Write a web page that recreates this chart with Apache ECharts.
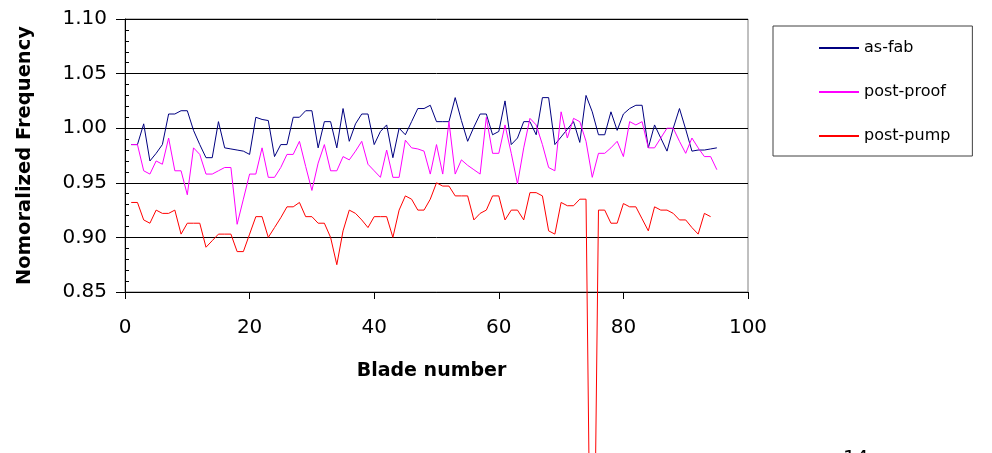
<!DOCTYPE html>
<html>
<head>
<meta charset="utf-8">
<script src="https://cdn.jsdelivr.net/npm/echarts@6/dist/echarts.min.js"></script>
<style>
  html, body { margin: 0; padding: 0; background: #fff; }
  #chart { width: 992px; height: 453px; }
</style>
</head>
<body>
<div id="chart"></div>
<script>
// normalized frequency per blade (blade number = position + 1)
const asFab = [
  0.985, 0.985, 1.004, 0.970, 0.977, 0.985, 1.013, 1.013, 1.016, 1.016,
  0.998, 0.985, 0.973, 0.973, 1.006, 0.982, 0.981, 0.980, 0.979, 0.976,
  1.010, 1.008, 1.007, 0.974, 0.985, 0.985, 1.010, 1.010, 1.016, 1.016,
  0.982, 1.006, 1.006, 0.982, 1.018, 0.988, 1.004, 1.013, 1.013, 0.985,
  0.997, 1.003, 0.973, 1.000, 0.994, 1.006, 1.018, 1.018, 1.021, 1.006,
  1.006, 1.006, 1.028, 1.007, 0.988, 1.001, 1.013, 1.013, 0.994, 0.997,
  1.025, 0.985, 0.991, 1.006, 1.006, 0.994, 1.028, 1.028, 0.985, 0.992,
  0.999, 1.006, 0.987, 1.030, 1.015, 0.994, 0.994, 1.015, 0.998, 1.013,
  1.018, 1.021, 1.021, 0.982, 1.003, 0.991, 0.979, 1.000, 1.018, 0.999,
  0.979, 0.980, 0.980, 0.981, 0.982
];
const postProof = [
  0.985, 0.985, 0.961, 0.958, 0.970, 0.967, 0.991, 0.961, 0.961, 0.939,
  0.982, 0.976, 0.958, 0.958, 0.961, 0.964, 0.964, 0.912, 0.935, 0.958,
  0.958, 0.982, 0.955, 0.955, 0.964, 0.976, 0.976, 0.988, 0.965, 0.943,
  0.968, 0.985, 0.961, 0.961, 0.974, 0.971, 0.979, 0.988, 0.967, 0.961,
  0.955, 0.980, 0.955, 0.955, 0.989, 0.982, 0.981, 0.979, 0.958, 0.985,
  0.958, 1.006, 0.958, 0.971, 0.966, 0.962, 0.958, 1.010, 0.977, 0.977,
  1.003, 0.977, 0.949, 0.982, 1.009, 1.003, 0.985, 0.964, 0.961, 1.015,
  0.991, 1.009, 1.006, 0.988, 0.955, 0.977, 0.977, 0.982, 0.988, 0.974,
  1.006, 1.003, 1.006, 0.982, 0.982, 0.991, 1.000, 1.000, 0.988, 0.977,
  0.991, 0.982, 0.974, 0.974, 0.962
];
const postPump = [
  0.932, 0.932, 0.916, 0.913, 0.925, 0.922, 0.922, 0.925, 0.903, 0.913,
  0.913, 0.913, 0.891, 0.897, 0.903, 0.903, 0.903, 0.887, 0.887, 0.903,
  0.919, 0.919, 0.900, 0.909, 0.918, 0.928, 0.928, 0.932, 0.919, 0.919,
  0.913, 0.913, 0.900, 0.875, 0.906, 0.925, 0.922, 0.916, 0.909, 0.919,
  0.919, 0.919, 0.900, 0.925, 0.938, 0.935, 0.925, 0.925, 0.935, 0.950,
  0.947, 0.947, 0.938, 0.938, 0.938, 0.916, 0.922, 0.925, 0.938, 0.938,
  0.916, 0.925, 0.925, 0.916, 0.941, 0.941, 0.938, 0.906, 0.903, 0.932,
  0.929, 0.929, 0.935, 0.935, 0.430, 0.925, 0.925, 0.913, 0.913, 0.931,
  0.928, 0.928, 0.917, 0.906, 0.928, 0.925, 0.925, 0.922, 0.916, 0.916,
  0.909, 0.903, 0.922, 0.919
];
const seriesNames = ["as-fab", "post-proof", "post-pump"];
const seriesColors = ["#000080", "#FF00FF", "#FF0000"];

const FONT = "DejaVu Sans";

function pairs(values) {
  return values.map((v, i) => [i + 1, v]);
}

const chart = echarts.init(document.getElementById("chart"));

chart.setOption({
  animation: false,
  backgroundColor: "#fff",
  textStyle: { fontFamily: FONT, color: "#000" },
  grid: {
    left: 125,
    right: 244,
    top: 19,
    bottom: 161,
    show: true,
    borderColor: "#808080",
    borderWidth: 1,
  },
  legend: {
    orient: "vertical",
    left: 773,
    top: 26,
    padding: [14, 22, 12, 45],
    itemWidth: 40,
    itemHeight: 16,
    itemGap: 28,
    itemStyle: { opacity: 0 },
    borderColor: "#404040",
    borderWidth: 1,
    textStyle: { fontFamily: FONT, fontSize: 16, color: "#000" },
    data: seriesNames,
  },
  xAxis: {
    type: "value",
    min: 0,
    max: 100,
    interval: 20,
    name: "Blade number",
    nameLocation: "middle",
    nameGap: 70,
    nameTextStyle: { fontFamily: FONT, fontSize: 19, fontWeight: "bold", color: "#000", padding: [0, 10, 0, 0] },
    axisLine: { lineStyle: { color: "#000", width: 1 } },
    axisTick: { show: true, length: 7, lineStyle: { color: "#000" } },
    axisLabel: { margin: 26, fontFamily: FONT, fontSize: 20, color: "#000" },
    splitLine: { show: false },
  },
  yAxis: {
    type: "value",
    min: 0.85,
    max: 1.1,
    interval: 0.05,
    name: "Nomoralized Frequency",
    nameLocation: "middle",
    nameGap: 90,
    nameTextStyle: { fontFamily: FONT, fontSize: 19.5, fontWeight: "bold", color: "#000" },
    axisLine: { show: true, lineStyle: { color: "#000", width: 1 } },
    axisTick: { show: true, length: 9, lineStyle: { color: "#000" } },
    minorTick: { show: true, splitNumber: 5, length: -4, lineStyle: { color: "#000" } },
    axisLabel: {
      margin: 18,
      fontFamily: FONT,
      fontSize: 20,
      color: "#000",
      formatter: (v) => v.toFixed(2),
    },
    splitLine: { show: true, lineStyle: { color: "#000", width: 1 } },
  },
  series: [asFab, postProof, postPump].map((values, k) => ({
    type: "line",
    name: seriesNames[k],
    data: pairs(values),
    symbol: "none",
    clip: false,
    lineStyle: { color: seriesColors[k], width: 1 },
    itemStyle: { color: seriesColors[k] },
  })),
  graphic: [
    {
      type: "text",
      left: 843,
      top: 449,
      style: { text: "14", fontFamily: FONT, fontSize: 20, fill: "#000" },
    },
  ],
});
</script>
</body>
</html>
